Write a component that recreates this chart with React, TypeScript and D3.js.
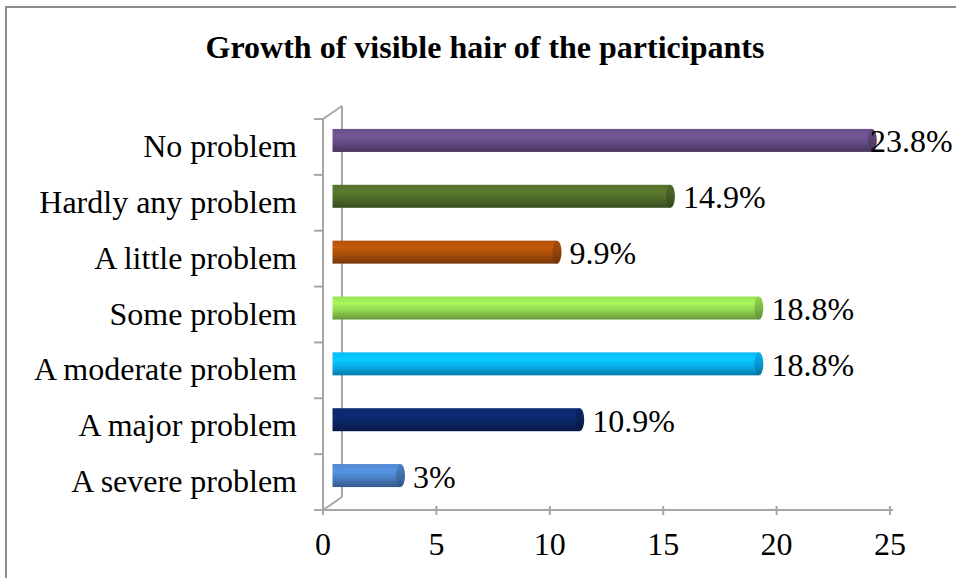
import React from "react";
import * as d3 from "d3";

const categories = [
  "No problem",
  "Hardly any problem",
  "A little problem",
  "Some problem",
  "A moderate problem",
  "A major problem",
  "A severe problem",
];
const values = [23.8, 14.9, 9.9, 18.8, 18.8, 10.9, 3];
const valueLabels = ["23.8%", "14.9%", "9.9%", "18.8%", "18.8%", "10.9%", "3%"];
const barColors = ["#644b84", "#4f6a2a", "#a84e0a", "#92d650", "#08b0ec", "#0b2566", "#4a80c6"];
const xTicks = [0, 5, 10, 15, 20, 25];
const title = "Growth of visible hair of the participants";

const W = 956;
const H = 578;
const FONT = "'Liberation Serif', 'Times New Roman', serif";
const FS = 32;

export default function App() {
  const x = d3.scaleLinear().domain([0, 25]).range([323, 890]);
  const y = d3.scaleBand<string>().domain(categories).range([119, 510]);
  // 3-D depth of the plot box
  const dx = 19;
  const dy = -13;
  const barH = 23;
  const frame = "#a6a6a6";

  const x0 = x(0);
  const yTop = y.range()[0];
  const yBot = y.range()[1];
  const bandEdges = categories.map((c) => y(c)!).concat([yBot]);

  return (
    <svg
      width={W}
      height={H}
      style={{ position: "absolute", left: 0, top: 0, background: "#fff" }}
      fontFamily={FONT}
    >
      <defs>
        {barColors.map((c, i) => {
          const base = d3.color(c)!;
          return (
            <linearGradient key={i} id={`cyl${i}`} x1="0" y1="0" x2="0" y2="1">
              <stop offset="0" stopColor={base.brighter(0.15).formatHex()} />
              <stop offset="0.3" stopColor={base.brighter(0.4).formatHex()} />
              <stop offset="0.6" stopColor={base.formatHex()} />
              <stop offset="0.85" stopColor={base.darker(0.6).formatHex()} />
              <stop offset="1" stopColor={base.darker(1).formatHex()} />
            </linearGradient>
          );
        })}
        {barColors.map((c, i) => {
          const base = d3.color(c)!;
          return (
            <linearGradient key={`cap${i}`} id={`cap${i}`} x1="0" y1="0" x2="0" y2="1">
              <stop offset="0" stopColor={base.formatHex()} />
              <stop offset="0.5" stopColor={base.darker(0.4).formatHex()} />
              <stop offset="1" stopColor={base.darker(1.2).formatHex()} />
            </linearGradient>
          );
        })}
      </defs>

      {/* outer border */}
      <line x1={5} y1={7} x2={W} y2={7} stroke="#8c8c8c" strokeWidth={2} />
      <line x1={6} y1={7} x2={6} y2={H} stroke="#8c8c8c" strokeWidth={2} />

      {/* title */}
      <text x={485} y={58} textAnchor="middle" fontWeight="bold" fontSize={FS} fill="#000">
        {title}
      </text>

      {/* back wall and depth edges */}
      <g stroke={frame} strokeWidth={2} fill="none">
        <line x1={x0 + dx} y1={yTop + dy} x2={x0 + dx} y2={yBot + dy} />
        <line x1={x0} y1={yTop} x2={x0 + dx} y2={yTop + dy} />
        <line x1={x0} y1={yBot} x2={x0 + dx} y2={yBot + dy} />
      </g>

      {/* front category axis */}
      <g stroke={frame} strokeWidth={2}>
        <line x1={x0} y1={yTop} x2={x0} y2={yBot + 5} />
        {bandEdges.map((e, i) => (
          <line key={i} x1={x0 - 9} y1={e} x2={x0} y2={e} />
        ))}
      </g>

      {/* value axis */}
      <g stroke={frame} strokeWidth={2}>
        <line x1={x0} y1={yBot} x2={x(25) + 3} y2={yBot} />
        {xTicks.map((t) => (
          <line key={t} x1={x(t)} y1={yBot - 4} x2={x(t)} y2={yBot + 5} />
        ))}
      </g>
      {xTicks.map((t) => (
        <text key={t} x={x(t)} y={555} textAnchor="middle" fontSize={FS} fill="#000">
          {t}
        </text>
      ))}

      {/* category labels */}
      {categories.map((c) => (
        <text
          key={c}
          x={297}
          y={y(c)! + y.bandwidth() / 2 + 10}
          textAnchor="end"
          fontSize={FS}
          fill="#000"
        >
          {c}
        </text>
      ))}

      {/* cylinder bars */}
      {categories.map((c, i) => {
        const cy = y(c)! + y.bandwidth() / 2 + dy / 2;
        const xs = x(0) + dx / 2;
        const xe = x(values[i]) + dx / 2;
        const rx = 4.5;
        return (
          <g key={c}>
            <rect x={xs} y={cy - barH / 2} width={xe - xs} height={barH} fill={`url(#cyl${i})`} />
            <ellipse cx={xe} cy={cy} rx={rx} ry={barH / 2} fill={`url(#cap${i})`} />
          </g>
        );
      })}

      {/* value labels; the longest one is kept inside the right edge */}
      {categories.map((c, i) => {
        const cy = y(c)! + y.bandwidth() / 2 + dy / 2;
        const end = x(values[i]) + dx / 2 + 4.5;
        const lx = Math.min(end + 8, W - 86);
        return (
          <text key={c} x={lx} y={cy + 12} fontSize={FS} fill="#000">
            {valueLabels[i]}
          </text>
        );
      })}
    </svg>
  );
}
